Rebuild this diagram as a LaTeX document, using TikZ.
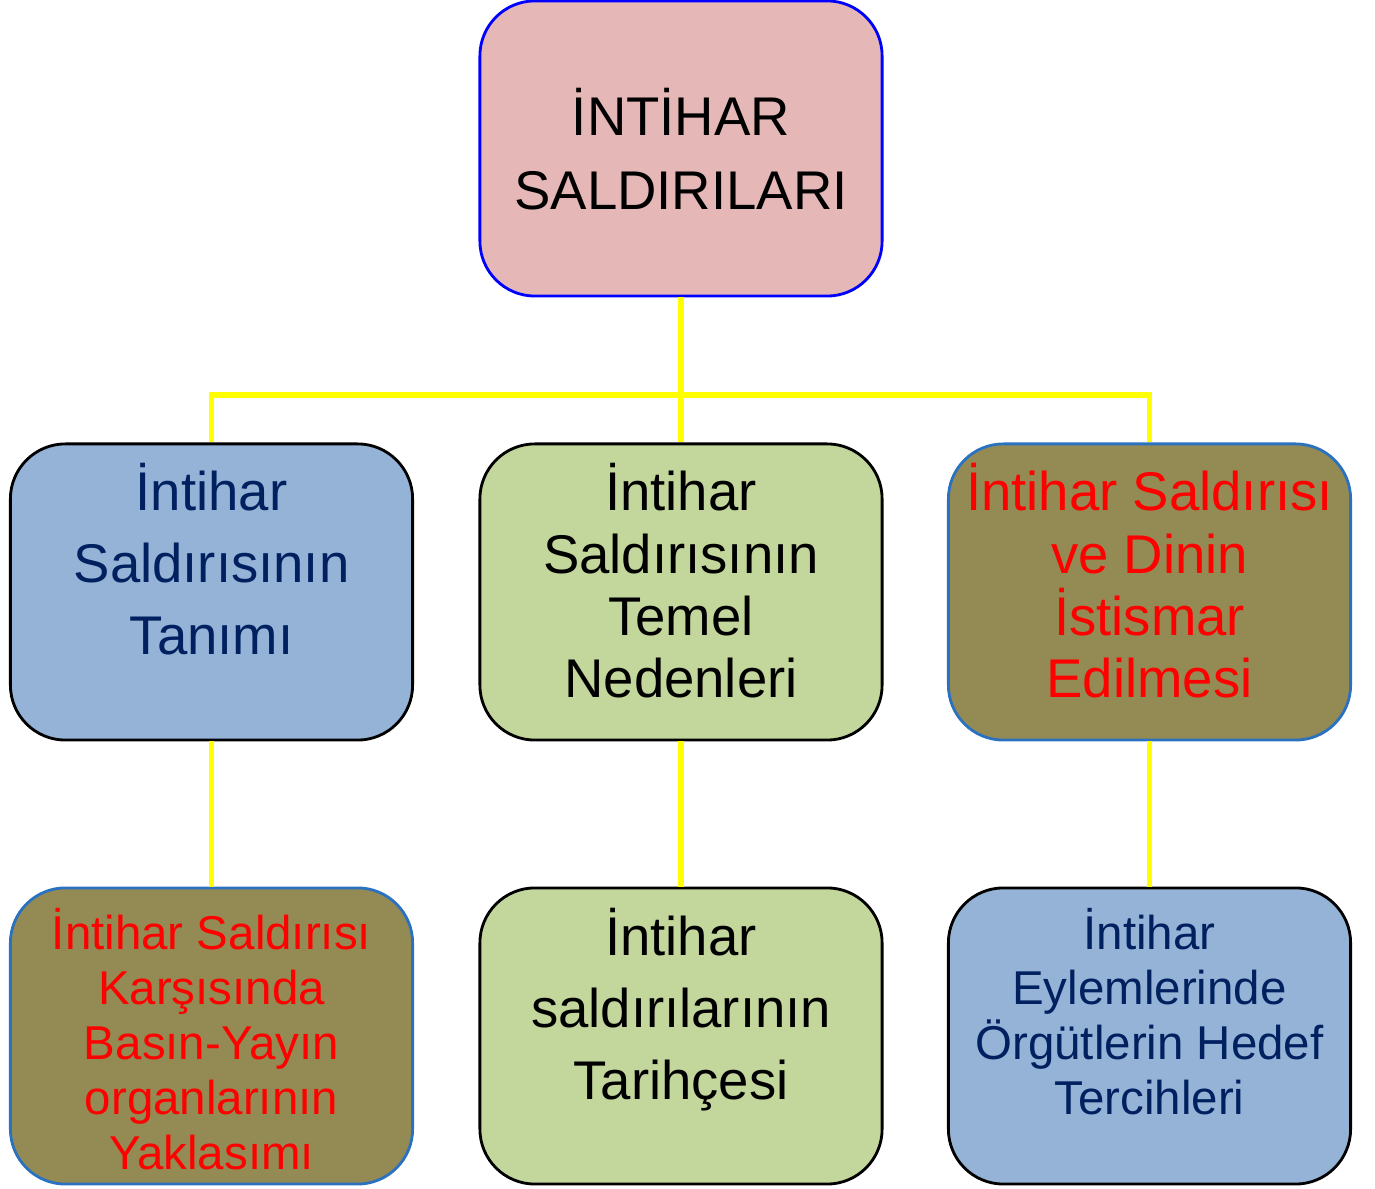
\documentclass[tikz,border=0pt]{standalone}
\usepackage{xcolor}
\usepackage{fontspec}
\setmainfont{Liberation Sans}
\usepackage{tikz}
\usetikzlibrary{positioning}

\definecolor{pinkbox}{HTML}{E5B8B7}
\definecolor{bluebox}{HTML}{95B3D7}
\definecolor{greenbox}{HTML}{C3D69B}
\definecolor{olivebox}{HTML}{948A54}
\definecolor{navytxt}{HTML}{002060}
\definecolor{redtxt}{HTML}{FF0000}
\definecolor{edgeblue}{HTML}{0000FF}
\definecolor{edgemid}{HTML}{2A72C0}
\definecolor{linkyellow}{HTML}{FFFF00}

\tikzset{
    box/.style={rounded corners=0.55cm, draw, line width=0.8pt, minimum width=4.02cm, minimum height=2.96cm, inner sep=0pt},
    lbl/.style={align=center, inner sep=0pt, outer sep=0pt},
    big/.style={font=\fontsize{15.5}{20.5}\selectfont},
    tight/.style={font=\fontsize{15.5}{17.7}\selectfont},
    small/.style={font=\fontsize{13.5}{15.6}\selectfont},
    link/.style={draw=linkyellow, line width=1.7pt}
}

\begin{document}
\begin{tikzpicture}[x=0.01cm, y=-0.01cm]
    \useasboundingbox (0, 0) rectangle (1375, 1189);

    \node[box, fill=pinkbox, draw=edgeblue, minimum height=2.95cm] at (681, 148.5) (root) {};

    \node[box, fill=bluebox] at (211.5, 592) (tanim) {};
    \node[box, fill=greenbox] at (681, 592) (neden) {};
    \node[box, fill=olivebox, draw=edgemid] at (1149.5, 592) (din) {};

    \node[box, fill=olivebox, draw=edgemid] at (211.5, 1036) (basin) {};
    \node[box, fill=greenbox] at (681, 1036) (tarih) {};
    \node[box, fill=bluebox] at (1149.5, 1036) (hedef) {};

    \node[lbl, font=\fontsize{15.5}{21}\selectfont, below=0.89cm of root.north] (roott) {İNTİHAR\\SALDIRILARI};
    \node[lbl, big, text=navytxt, below=0.21cm of tanim.north] (tanimt) {İntihar\\Saldırısının\\Tanımı};
    \node[lbl, tight, below=0.21cm of neden.north] (nedent) {İntihar\\Saldırısının\\Temel\\Nedenleri};
    \node[lbl, tight, text=redtxt, below=0.21cm of din.north] (dint) {İntihar Saldırısı\\ve Dinin\\İstismar\\Edilmesi};
    \node[lbl, small, text=redtxt, below=0.22cm of basin.north] (basint) {İntihar Saldırısı\\Karşısında\\Basın-Yayın\\organlarının\\Yaklasımı};
    \node[lbl, big, below=0.22cm of tarih.north] (tariht) {İntihar\\saldırılarının\\Tarihçesi};
    \node[lbl, small, text=navytxt, below=0.22cm of hedef.north] (hedeft) {İntihar\\Eylemlerinde\\Örgütlerin Hedef\\Tercihleri};

    \coordinate (bus) at (681, 395);
    \draw[link] (root) -- (neden);
    \draw[link] (tanim.north) |- (bus) -| (din.north);
    \draw[link] (tanim) -- (basin);
    \draw[link] (neden) -- (tarih);
    \draw[link] (din) -- (hedef);
\end{tikzpicture}
\end{document}
